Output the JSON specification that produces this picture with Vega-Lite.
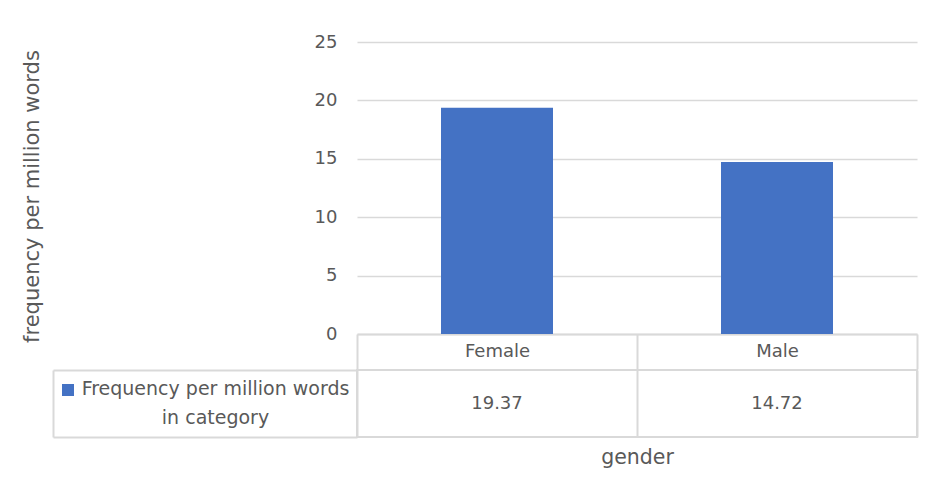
{
  "$schema": "https://vega.github.io/schema/vega-lite/v6.json",
  "background": "white",
  "padding": {"left": 21, "top": 33, "right": 12, "bottom": 10},
  "spacing": -10,
  "config": {
    "font": "DejaVu Sans",
    "axis": {"labelColor": "#595959", "titleColor": "#595959", "titleFontWeight": "normal"}
  },
  "data": {
    "values": [
      {"gender": "Female", "frequency": 19.37, "series": "Frequency per million words in category"},
      {"gender": "Male", "frequency": 14.72, "series": "Frequency per million words in category"}
    ]
  },
  "vconcat": [
    {
      "width": 560,
      "height": 292,
      "view": {"stroke": null},
      "mark": {"type": "bar", "width": {"band": 0.4}},
      "encoding": {
        "x": {
          "field": "gender",
          "type": "nominal",
          "sort": ["Female", "Male"],
          "scale": {"paddingInner": 0, "paddingOuter": 0},
          "axis": {
            "title": null,
            "labelAngle": 0,
            "domainColor": "#d9d9d9",
            "domainWidth": 2,
            "tickBand": "extent",
            "tickSize": 35,
            "tickColor": "#d9d9d9",
            "tickWidth": 2,
            "labelPadding": -18,
            "labelBaseline": "middle",
            "labelFontSize": 18
          }
        },
        "y": {
          "field": "frequency",
          "type": "quantitative",
          "scale": {"domain": [0, 25]},
          "axis": {
            "values": [0, 5, 10, 15, 20, 25],
            "domain": false,
            "ticks": false,
            "gridColor": "#d9d9d9",
            "gridWidth": 1.5,
            "labelPadding": 20,
            "labelFontSize": 18,
            "title": "frequency per million words",
            "titleFontSize": 21,
            "titlePadding": 272,
            "titleY": 154
          }
        },
        "color": {
          "field": "series",
          "type": "nominal",
          "scale": {"range": ["#4472C4"]},
          "legend": {
            "title": null,
            "orient": "none",
            "legendX": -295,
            "legendY": 342,
            "padding": 0,
            "symbolType": "square",
            "symbolSize": 144,
            "symbolStrokeWidth": 0,
            "labelExpr": "''",
            "labelFontSize": 1
          }
        }
      }
    },
    {
      "width": 560,
      "height": 67,
      "view": {"stroke": "#d9d9d9", "strokeWidth": 2},
      "mark": {"type": "text", "fontSize": 18, "color": "#595959"},
      "encoding": {
        "x": {
          "field": "gender",
          "type": "nominal",
          "sort": ["Female", "Male"],
          "scale": {"paddingInner": 0, "paddingOuter": 0},
          "axis": {
            "orient": "bottom",
            "title": "gender",
            "titleFontSize": 20.5,
            "titlePadding": 10,
            "domain": false,
            "ticks": false,
            "labels": false,
            "grid": true,
            "tickBand": "extent",
            "gridColor": "#d9d9d9",
            "gridWidth": 2
          }
        },
        "y": {
          "field": "series",
          "type": "nominal",
          "scale": {"paddingInner": 0, "paddingOuter": 0},
          "axis": {
            "title": null,
            "offset": 304,
            "domainColor": "#d9d9d9",
            "domainWidth": 2,
            "tickBand": "extent",
            "tickSize": -304,
            "tickColor": "#d9d9d9",
            "tickWidth": 2,
            "labelExpr": "[slice(datum.label, 0, 27), slice(datum.label, 28)]",
            "labelAlign": "center",
            "labelBaseline": "middle",
            "labelLineHeight": 29,
            "labelOffset": -15,
            "labelPadding": 142,
            "labelLimit": 500,
            "labelFontSize": 19
          }
        },
        "text": {"field": "frequency", "type": "quantitative", "format": ".2f"}
      }
    }
  ]
}
